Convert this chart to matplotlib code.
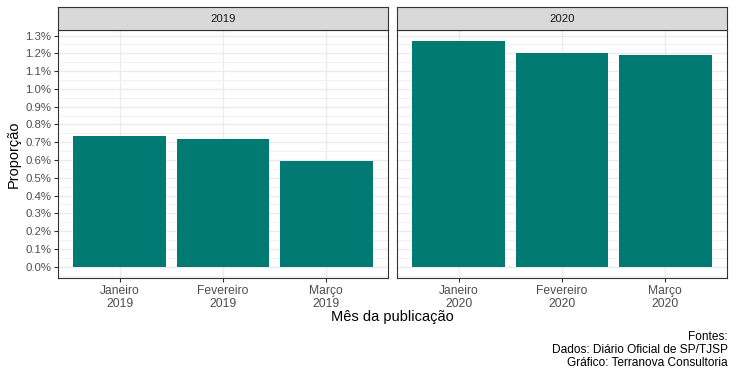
import matplotlib
matplotlib.use("Agg")
import matplotlib.pyplot as plt
from matplotlib.ticker import FuncFormatter, MultipleLocator
import numpy as np

plt.rcParams['font.family'] = ['Liberation Sans', 'DejaVu Sans']

anos = ['2019', '2020']
meses = ['Janeiro', 'Fevereiro', 'Março']
prop_2019 = [0.00738, 0.00716, 0.00593]
prop_2020 = [0.01268, 0.01201, 0.01190]
valores = [prop_2019, prop_2020]

cor_barra = '#007A73'
W, H = 735, 375

fig = plt.figure(figsize=(W / 100, H / 100), dpi=100)

ymax = max(max(prop_2019), max(prop_2020))
ylim = (-0.05 * ymax, ymax * 1.05)

paineis = [(58, 388), (397, 727)]
top, bottom = 30, 278

for k, (ano, vals) in enumerate(zip(anos, valores)):
    x0, x1 = paineis[k]
    ax = fig.add_axes([x0 / W, (H - bottom) / H, (x1 - x0) / W, (bottom - top) / H])
    x = np.arange(len(meses))
    ax.bar(x, vals, width=0.9, color=cor_barra, zorder=3)
    ax.set_xlim(-0.6, len(meses) - 0.4)
    ax.set_ylim(*ylim)
    ax.yaxis.set_major_locator(MultipleLocator(0.001))
    ax.yaxis.set_minor_locator(MultipleLocator(0.0005))
    ax.yaxis.set_major_formatter(FuncFormatter(lambda v, p: '{:.1f}%'.format(v * 100)))
    ax.set_xticks(x)
    ax.set_xticklabels([m + '\n' + ano for m in meses], color='#4D4D4D', fontsize=8.7, linespacing=1.12)
    ax.grid(True, which='major', color='#EBEBEB', linewidth=1.0, zorder=0)
    ax.grid(True, which='minor', axis='y', color='#EBEBEB', linewidth=0.5, zorder=0)
    ax.set_axisbelow(True)
    ax.tick_params(axis='both', which='major', length=3, color='#333333', width=0.8, labelcolor='#4D4D4D', pad=2)
    ax.tick_params(axis='y', labelsize=8.2)
    ax.tick_params(axis='y', which='minor', length=0)
    if k > 0:
        ax.tick_params(axis='y', which='major', length=0, labelleft=False)
    else:
        ax.set_ylabel('Proporção', fontsize=10.5, labelpad=3)
    for s in ax.spines.values():
        s.set_color('#333333')
        s.set_linewidth(0.8)

    sa = fig.add_axes([x0 / W, (H - top) / H, (x1 - x0) / W, 23 / H])
    sa.set_facecolor('#D9D9D9')
    sa.set_xticks([])
    sa.set_yticks([])
    for s in sa.spines.values():
        s.set_color('#333333')
        s.set_linewidth(0.8)
    sa.text(0.5, 0.5, ano, ha='center', va='center', fontsize=8.2, color='#1A1A1A', transform=sa.transAxes)

fig.text(392 / W, 1 - 317 / H, 'Mês da publicação', ha='center', va='center', fontsize=10.5)
fig.text(728 / W, 1 - 350 / H, 'Fontes:\nDados: Diário Oficial de SP/TJSP\nGráfico: Terranova Consultoria',
         ha='right', va='center', fontsize=8.6, linespacing=1.1)

fig.savefig('out.png', dpi=100)
